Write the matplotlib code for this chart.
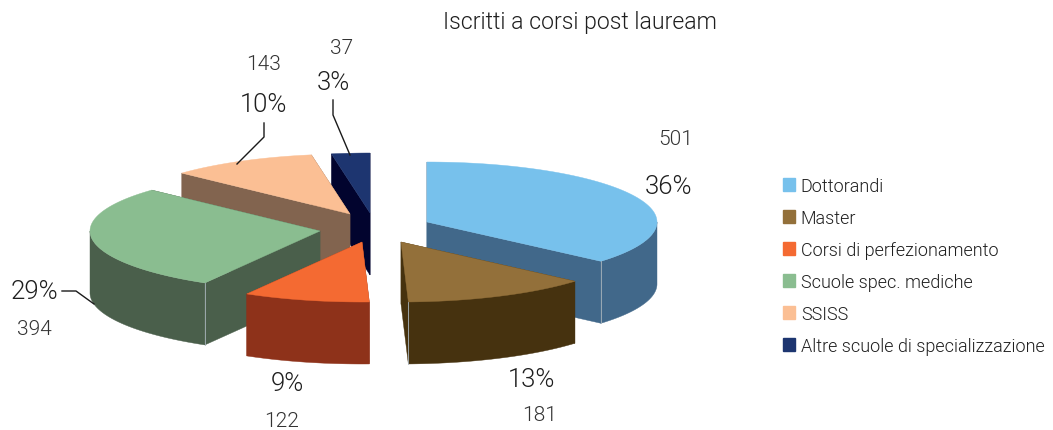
import matplotlib
matplotlib.use('Agg')
import matplotlib.pyplot as plt
from matplotlib.patches import Patch, Polygon
import numpy as np

plt.rcParams['font.family'] = ['Roboto', 'DejaVu Sans']
plt.rcParams['font.weight'] = 300

categories = ['Dottorandi', 'Master', 'Corsi di perfezionamento',
              'Scuole spec. mediche', 'SSISS', 'Altre scuole di specializzazione']
values = [501, 181, 122, 394, 143, 37]
percents = ['36%', '13%', '9%', '29%', '10%', '3%']

top_colors = ['#77C1EC', '#93703A', '#F46A32', '#8ABD90', '#FBBF94', '#1D3570']
side_colors = ['#41688A', '#46320F', '#8E321A', '#4A5F4B', '#82644F', '#02042E']

# where each exploded slice has its tip, in pixels
tips = [(427, 223), (401, 243), (362, 243), (320, 232), (350, 215), (370, 214)]
pct_pos = [(669, 187), (531, 380), (287, 384), (34, 292), (264, 105), (333, 83)]
count_pos = [(676, 140), (540, 416), (282, 422), (34, 330), (264, 65), (342, 48)]
leaders = [[(264, 124), (264, 138), (237, 165)],
           [(333, 101), (333, 116), (350, 156)],
           [(62, 292), (76, 292), (94, 305)]]

rx = 230
ry = 60
depth = 62


def rim(tip, angles):
    t = np.radians(angles)
    return np.column_stack([tip[0] + rx * np.sin(t), tip[1] - ry * np.cos(t)])


def drop(points):
    return points + np.array([0, depth])


fig = plt.figure(figsize=(10.53, 4.31), dpi=100)
ax = fig.add_axes([0, 0, 1, 1])
ax.set_xlim(0, 1053)
ax.set_ylim(431, 0)
ax.axis('off')

fractions = np.array(values) / sum(values)
ends = np.cumsum(fractions) * 360
starts = ends - fractions * 360

# back slices first, so the nearer ones cover them
for i in [5, 4, 0, 3, 2, 1]:
    tip = tips[i]
    top = rim(tip, np.linspace(starts[i], ends[i], 80))
    tip_pt = np.array([tip])

    for edge in [top[:1], top[-1:]]:
        wall = np.vstack([tip_pt, edge, drop(edge), drop(tip_pt)])
        ax.add_patch(Polygon(wall, closed=True, fc=side_colors[i], ec=side_colors[i], lw=0.3))

    a = max(starts[i], 90)
    b = min(ends[i], 270)
    if b > a:
        outer = rim(tip, np.linspace(a, b, 60))
        ax.add_patch(Polygon(np.vstack([outer, drop(outer)[::-1]]), closed=True,
                             fc=side_colors[i], ec=side_colors[i], lw=0.3))
        # pale seam where the rim meets the cut face
        seam = {0: outer[-1:], 1: outer[-1:], 3: outer[:1]}.get(i)
        if seam is not None:
            s = np.vstack([seam, drop(seam)])
            ax.plot(s[:, 0], s[:, 1], color='#A9B4BC', lw=0.6)

    ax.add_patch(Polygon(np.vstack([tip_pt, top]), closed=True,
                         fc=top_colors[i], ec=top_colors[i], lw=0.3))

for line in leaders:
    xs, ys = zip(*line)
    ax.plot(xs, ys, color='#1A1A1A', lw=1)

for i in range(len(values)):
    ax.text(pct_pos[i][0], pct_pos[i][1], percents[i], fontsize=18.5, color='#1F1F1F',
            ha='center', va='center')
    ax.text(count_pos[i][0], count_pos[i][1], str(values[i]), fontsize=15, color='#333333',
            ha='center', va='center')

ax.text(580, 22, 'Iscritti a corsi post lauream', fontsize=16.6, color='#1F1F1F',
        ha='center', va='center')

handles = [Patch(fc=c, ec=c) for c in top_colors]
ax.legend(handles, categories, loc='upper left', bbox_to_anchor=(780 / 1053, 1 - 175 / 431),
          frameon=False, fontsize=13, labelcolor='#1F1F1F', handlelength=0.7,
          handleheight=0.7, handletextpad=0.3, labelspacing=0.78, borderpad=0.15,
          borderaxespad=0)

fig.savefig('out.png', dpi=100)
